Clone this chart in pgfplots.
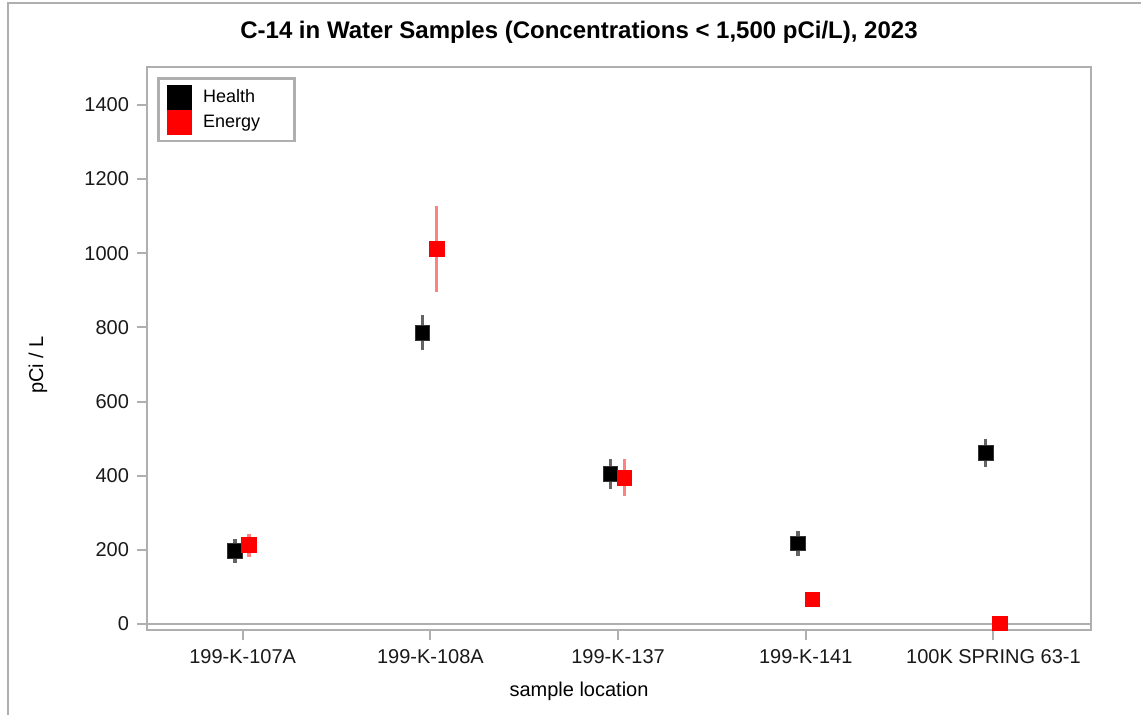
\documentclass[border=0pt]{standalone}
\usepackage{fontspec}
\setmainfont{Liberation Sans}
\usepackage{pgfplots}
\pgfplotsset{compat=1.18}
\definecolor{framegray}{RGB}{175,175,175}
\definecolor{barred}{RGB}{255,130,130}
\definecolor{bargray}{RGB}{100,100,100}

\begin{document}
\begin{tikzpicture}
\useasboundingbox (-73.5pt,-42.5pt) rectangle (497pt,315pt);
% outer frame (left and top edges visible)
\draw[framegray, line width=1pt] (-69.5pt,-43pt) -- (-69.5pt,313.5pt) -- (498pt,313.5pt);

\begin{axis}[
    at={(0pt,0pt)}, anchor=south west,
    scale only axis,
    width=472pt, height=281.5pt,
    xmin=-0.51, xmax=4.52,
    ymin=-16, ymax=1502,
    xtick={0,1,2,3,4},
    xticklabels={199-K-107A,199-K-108A,199-K-137,199-K-141,100K SPRING 63-1},
    ytick={0,200,...,1400},
    /pgf/number format/1000 sep={},
    /pgf/number format/assume math mode=true,
    tick label style={font=\fontsize{10}{12}\selectfont, text=black!90},
    axis line style={framegray, line width=1pt},
    tick style={framegray, line width=1pt},
    tick align=outside,
    major tick length=5pt,
    xtick pos=bottom, ytick pos=left,
    yticklabel style={xshift=-0.5pt},
    xticklabel style={yshift=-1pt},
    legend style={
        at={(0.0106,0.982)}, anchor=north west,
        draw=framegray, line width=1.4pt,
        font=\fontsize{9}{10}\selectfont,
        row sep=0pt, inner xsep=4.5pt, inner ysep=3pt,
    },
    legend cell align=left,
]
% zero reference line
\addplot[forget plot, framegray, line width=1pt] coordinates {(-0.6,0) (4.6,0)};

% Health
\addplot[forget plot, only marks, mark=square*, mark size=3.6pt,
    mark options={fill=black, draw=black!80},
    error bars/.cd, y dir=both, y explicit, error mark=none,
    error bar style={bargray, line width=1.6pt}]
    coordinates {
    (-0.041,197) +- (0,32)
    (0.959,785) +- (0,47)
    (1.959,405) +- (0,40)
    (2.959,218) +- (0,34)
    (3.959,461) +- (0,38)
};

% Energy
\addplot[forget plot, only marks, mark=square*, mark size=3.6pt,
    mark options={fill=red, draw=red},
    error bars/.cd, y dir=both, y explicit, error mark=none,
    error bar style={barred, line width=1.6pt}]
    coordinates {
    (0.034,213) +- (0,31)
    (1.034,1012) +- (0,116)
    (2.034,394) +- (0,50)
    (3.034,67) +- (0,0)
    (4.034,2) +- (0,0)
};

\addlegendimage{legend image code/.code={\fill[black] (0pt,-5.6pt) rectangle (11pt,5.6pt);}}
\addlegendentry{\hspace*{3.5pt}\makebox[39pt][l]{Health}}
\addlegendimage{legend image code/.code={\fill[red] (0pt,-5.6pt) rectangle (11pt,5.6pt);}}
\addlegendentry{\hspace*{3.5pt}\makebox[39pt][l]{Energy}}
\end{axis}

\node[font=\bfseries\fontsize{12}{14}\selectfont] at (216pt,299pt) {C-14 in Water Samples (Concentrations < 1,500 pCi/L), 2023};
\node[font=\fontsize{10}{12}\selectfont] at (216pt,-30.5pt) {sample location};
\node[font=\fontsize{10}{12}\selectfont, rotate=90] at (-54.5pt,132.5pt) {pCi / L};
\end{tikzpicture}
\end{document}
